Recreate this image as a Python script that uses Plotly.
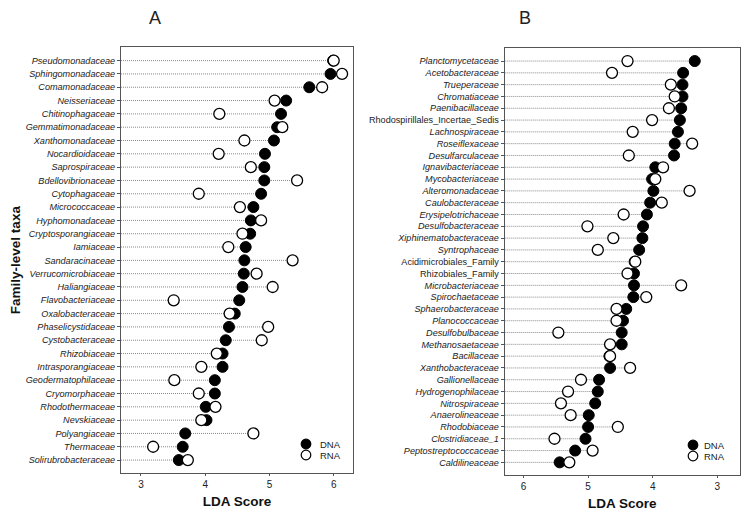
import plotly.graph_objects as go

# panel A: family-level taxa, LDA scores for DNA and RNA
taxa_a = ['Pseudomonadaceae', 'Sphingomonadaceae', 'Comamonadaceae', 'Neisseriaceae', 'Chitinophagaceae',
          'Gemmatimonadaceae', 'Xanthomonadaceae', 'Nocardioidaceae', 'Saprospiraceae', 'Bdellovibrionaceae',
          'Cytophagaceae', 'Micrococcaceae', 'Hyphomonadaceae', 'Cryptosporangiaceae', 'Iamiaceae',
          'Sandaracinaceae', 'Verrucomicrobiaceae', 'Haliangiaceae', 'Flavobacteriaceae', 'Oxalobacteraceae',
          'Phaselicystidaceae', 'Cystobacteraceae', 'Rhizobiaceae', 'Intrasporangiaceae', 'Geodermatophilaceae',
          'Cryomorphaceae', 'Rhodothermaceae', 'Nevskiaceae', 'Polyangiaceae', 'Thermaceae', 'Solirubrobacteraceae']
dna_a = [5.99, 5.95, 5.62, 5.26, 5.18, 5.12, 5.07, 4.93, 4.92, 4.92, 4.87, 4.75, 4.71, 4.70, 4.63, 4.61,
         4.60, 4.58, 4.53, 4.46, 4.37, 4.32, 4.27, 4.27, 4.15, 4.15, 4.01, 4.02, 3.69, 3.65, 3.59]
rna_a = [6.00, 6.13, 5.82, 5.08, 4.22, 5.20, 4.61, 4.21, 4.71, 5.43, 3.90, 4.54, 4.87, 4.58, 4.36, 5.36,
         4.80, 5.05, 3.51, 4.38, 4.98, 4.88, 4.18, 3.94, 3.52, 3.90, 4.16, 3.94, 4.75, 3.19, 3.73]

# panel B
taxa_b = ['Planctomycetaceae', 'Acetobacteraceae', 'Trueperaceae', 'Chromatiaceae', 'Paenibacillaceae',
          'Rhodospirillales_Incertae_Sedis', 'Lachnospiraceae', 'Roseiflexaceae', 'Desulfarculaceae',
          'Ignavibacteriaceae', 'Mycobacteriaceae', 'Alteromonadaceae', 'Caulobacteraceae', 'Erysipelotrichaceae',
          'Desulfobacteraceae', 'Xiphinematobacteraceae', 'Syntrophaceae', 'Acidimicrobiales_Family',
          'Rhizobiales_Family', 'Microbacteriaceae', 'Spirochaetaceae', 'Sphaerobacteraceae', 'Planococcaceae',
          'Desulfobulbaceae', 'Methanosaetaceae', 'Bacillaceae', 'Xanthobacteraceae', 'Gallionellaceae',
          'Hydrogenophilaceae', 'Nitrospiraceae', 'Anaerolineaceae', 'Rhodobiaceae', 'Clostridiaceae_1',
          'Peptostreptococcaceae', 'Caldilineaceae']
dna_b = [3.35, 3.53, 3.54, 3.54, 3.56, 3.58, 3.61, 3.66, 3.67, 3.96, 4.01, 3.99, 4.04, 4.09, 4.15, 4.16,
         4.21, 4.28, 4.29, 4.29, 4.30, 4.41, 4.46, 4.48, 4.48, 4.67, 4.66, 4.83, 4.85, 4.89, 4.99, 5.00,
         5.04, 5.20, 5.44]
rna_b = [4.39, 4.63, 3.72, 3.66, 3.75, 4.01, 4.31, 3.39, 4.37, 3.84, 3.96, 3.43, 3.86, 4.45, 5.01, 4.61,
         4.85, 4.27, 4.39, 3.56, 4.10, 4.56, 4.56, 5.46, 4.66, 4.66, 4.35, 5.11, 5.31, 5.42, 5.27, 4.54,
         5.52, 4.93, 5.29]
# taxa printed upright (not proper family names)
upright = ['Rhodospirillales_Incertae_Sedis', 'Acidimicrobiales_Family', 'Rhizobiales_Family']

W, H = 743, 514
FONT = 'Liberation Sans, Arial, sans-serif'
xr_a = [2.69, 6.30]
xr_b = [6.29, 2.65]


def px_x(p):
  return p / W


def px_y(p):
  return 1 - p / H


def label(t):
  return t if t in upright else '<i>' + t + '</i>'


def stems(dna, rna, start, right_is_high):
  # dotted guide from the left axis to the rightmost point of each row
  xs, ys = [], []
  for i, (d, r) in enumerate(zip(dna, rna)):
    end = max(d, r) if right_is_high else min(d, r)
    xs += [start, end, None]
    ys += [i, i, None]
  return xs, ys


fig = go.Figure()
panels = [('x', 'y', taxa_a, dna_a, rna_a, xr_a[0], True),
          ('x2', 'y2', taxa_b, dna_b, rna_b, xr_b[0], False)]
for xa, ya, taxa, dna, rna, start, hi in panels:
  lx, ly = stems(dna, rna, start, hi)
  fig.add_trace(go.Scatter(x=lx, y=ly, mode='lines', xaxis=xa, yaxis=ya, hoverinfo='skip',
                           line=dict(color='#8a8a8a', width=1, dash='1px,1px'), showlegend=False))
  idx = list(range(len(taxa)))
  fig.add_trace(go.Scatter(x=dna, y=idx, mode='markers', xaxis=xa, yaxis=ya, name='DNA', showlegend=False,
                           marker=dict(size=11, color='black', line=dict(color='black', width=1))))
  fig.add_trace(go.Scatter(x=rna, y=idx, mode='markers', xaxis=xa, yaxis=ya, name='RNA', showlegend=False,
                           marker=dict(size=11, color='white', line=dict(color='black', width=1.3))))

axis_common = dict(showline=True, mirror=True, linecolor='#555555', linewidth=1, showgrid=False,
                   zeroline=False, ticks='outside', ticklen=3, tickcolor='#555555',
                   tickfont=dict(family=FONT, size=10, color='#222222'))
lab_font = dict(family=FONT, size=9.1, color='#222222')
title_font = dict(family=FONT, size=13.5, color='#111111')

fig.update_layout(
    width=W, height=H,
    margin=dict(l=0, r=0, t=0, b=0),
    paper_bgcolor='white', plot_bgcolor='white',
    showlegend=False,
    xaxis=dict(axis_common, domain=[px_x(121), px_x(353)], range=xr_a, anchor='y',
               tickvals=[3, 4, 5, 6], ticklen=2,
               title=dict(text='<b>LDA Score</b>', font=title_font, standoff=7)),
    yaxis=dict(axis_common, domain=[px_y(473), px_y(47.3)], anchor='x',
               range=[len(taxa_a) - 0.03, -1.0], tickvals=list(range(len(taxa_a))),
               ticktext=[label(t) for t in taxa_a], tickfont=lab_font,
               title=dict(text='<b>Family-level taxa</b>', font=title_font, standoff=1)),
    xaxis2=dict(axis_common, domain=[px_x(504.7), px_x(740)], range=xr_b, anchor='y2',
                tickvals=[6, 5, 4, 3], ticklen=2,
                title=dict(text='<b>LDA Score</b>', font=title_font, standoff=7)),
    yaxis2=dict(axis_common, domain=[px_y(475), px_y(48.3)], anchor='x2',
                range=[len(taxa_b) - 1 + 1.07, -1.08], tickvals=list(range(len(taxa_b))),
                ticktext=[label(t) for t in taxa_b], tickfont=lab_font),
)

# panel letters
for txt, xp in [('A', 155), ('B', 525)]:
  fig.add_annotation(text=txt, x=px_x(xp), y=px_y(18), xref='paper', yref='paper', showarrow=False,
                     xanchor='center', yanchor='middle', font=dict(family=FONT, size=18, color='#222222'))

# legend keys drawn in paper space (the library legend spaces rows too widely)
for cx, tx, ys in [(306, 318, (444, 455)), (693, 702, (445, 456))]:
  for (yy, nm, fill) in [(ys[0], 'DNA', 'black'), (ys[1], 'RNA', 'white')]:
    r = 4.8
    fig.add_shape(type='circle', xref='paper', yref='paper',
                  x0=px_x(cx - r), x1=px_x(cx + r), y0=px_y(yy + r), y1=px_y(yy - r),
                  fillcolor=fill, line=dict(color='black', width=1.2))
    fig.add_annotation(text=nm, x=px_x(tx), y=px_y(yy), xref='paper', yref='paper', showarrow=False,
                       xanchor='left', yanchor='middle', font=dict(family=FONT, size=9.5, color='#222222'))

# drop the default page margin so the figure sits at the window's top-left corner
fig.write_html('out.html', config={'displayModeBar': False},
               post_script="document.body.style.margin='0';")
